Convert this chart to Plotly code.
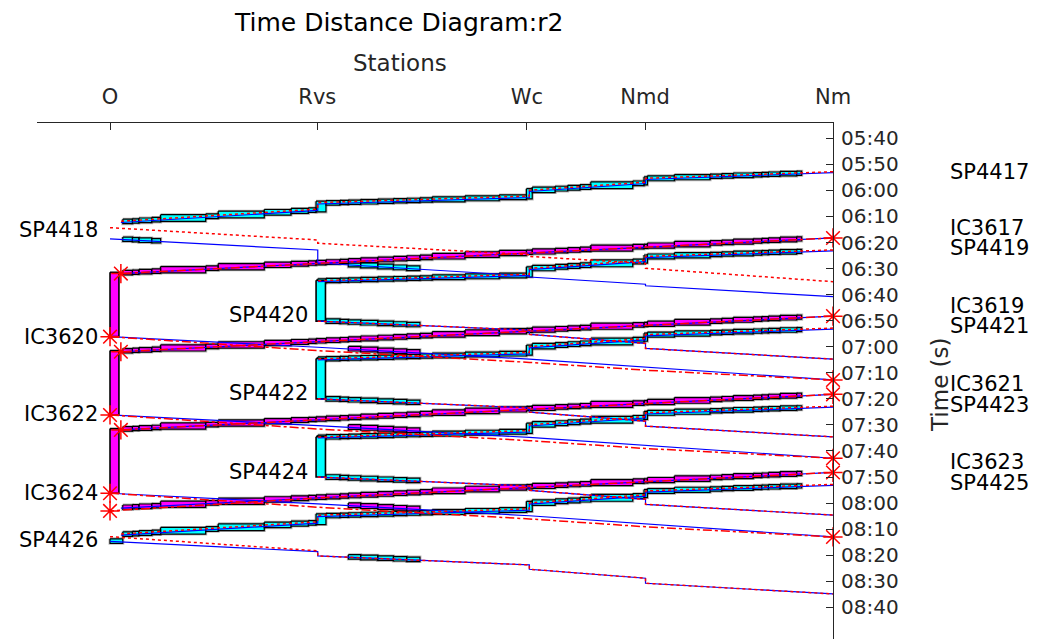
import plotly.graph_objects as go

# ---------------- data ----------------
STATION_NAMES = ["O", "Rvs", "Wc", "Nmd", "Nm"]
STATION_KM = [0.0, 8.6, 17.3, 22.2, 30.0]
STOP_KM = {"O": 0.0, "Op": 0.45, "Rvs": 8.62, "Wc": 17.40, "Nmd": 22.22, "Nm": 30.0}

SIGNAL_KM = [0.0, 0.53, 0.93, 1.20, 1.73, 2.10, 3.97, 4.49, 6.40, 7.51, 8.23, 8.55, 8.96,
             9.54, 9.89, 10.40, 11.11, 11.76, 12.31, 12.86, 13.37, 14.73, 16.15, 17.28,
             17.52, 18.47, 18.99, 19.50, 19.95, 21.69, 22.16, 22.30, 23.42, 24.90, 25.38,
             25.86, 26.69, 27.04, 27.32, 27.80, 28.49, 28.70]

TIME_TICKS = ["05:40", "05:50", "06:00", "06:10", "06:20", "06:30", "06:40", "06:50",
              "07:00", "07:10", "07:20", "07:30", "07:40", "07:50", "08:00", "08:10",
              "08:20", "08:30", "08:40"]

# northbound sprinters (Nm -> O / Rvs)
SP4417 = [("Nm", "05:53:12"), ("Nmd", "05:55:49"), ("Nmd", "05:57:21"), ("Wc", "06:00:25"),
          ("Wc", "06:02:43"), ("Rvs", "06:05:13"), ("Rvs", "06:07:42"), ("Op", "06:12:19")]
SP4419 = [("Nm", "06:23:12"), ("Nmd", "06:25:49"), ("Nmd", "06:27:21"), ("Wc", "06:30:25"),
          ("Wc", "06:32:43"), ("Rvs", "06:35:00")]
SP4421 = [("Nm", "06:53:12"), ("Nmd", "06:55:49"), ("Nmd", "06:57:21"), ("Wc", "07:00:25"),
          ("Wc", "07:02:43"), ("Rvs", "07:05:00")]
SP4423 = [("Nm", "07:23:12"), ("Nmd", "07:25:49"), ("Nmd", "07:27:21"), ("Wc", "07:30:25"),
          ("Wc", "07:32:43"), ("Rvs", "07:35:00")]
SP4425 = [("Nm", "07:53:12"), ("Nmd", "07:55:49"), ("Nmd", "07:57:21"), ("Wc", "08:00:25"),
          ("Wc", "08:02:43"), ("Rvs", "08:05:13"), ("Rvs", "08:07:42"), ("Op", "08:12:19")]
SP4417_PLAN = [("Nm", "05:52:50"), ("Nmd", "05:55:20"), ("Nmd", "05:56:50"), ("Wc", "05:59:55"),
               ("Wc", "06:02:10"), ("Rvs", "06:04:40"), ("Rvs", "06:07:10"), ("Op", "06:11:50")]
SP4419_PLAN = [("Nm", "06:22:50"), ("Nmd", "06:25:20"), ("Nmd", "06:26:50"), ("Wc", "06:29:55"),
               ("Wc", "06:32:10"), ("Rvs", "06:34:40")]
SP4421_PLAN = [("Nm", "06:52:50"), ("Nmd", "06:55:20"), ("Nmd", "06:56:50"), ("Wc", "06:59:55"),
               ("Wc", "07:02:10"), ("Rvs", "07:04:40")]
SP4423_PLAN = [("Nm", "07:22:50"), ("Nmd", "07:25:20"), ("Nmd", "07:26:50"), ("Wc", "07:29:55"),
               ("Wc", "07:32:10"), ("Rvs", "07:34:40")]
SP4425_PLAN = [("Nm", "07:52:50"), ("Nmd", "07:55:20"), ("Nmd", "07:56:50"), ("Wc", "07:59:55"),
               ("Wc", "08:02:10"), ("Rvs", "08:04:40"), ("Rvs", "08:07:10"), ("Op", "08:11:50")]

# southbound sprinters (O / Rvs -> Nm)
SP4418 = [("O", "06:18:38"), ("Rvs", "06:22:52"), ("Rvs", "06:27:51"), ("Wc", "06:32:50"),
          ("Wc", "06:33:15"), ("Nmd", "06:36:00"), ("Nmd", "06:36:35"), ("Nm", "06:40:47")]
SP4418_PLAN = [("O", "06:14:18"), ("Rvs", "06:19:01"), ("Rvs", "06:20:17"), ("Wc", "06:24:40"),
               ("Wc", "06:25:21"), ("Nmd", "06:28:00"), ("Nmd", "06:29:53"), ("Nm", "06:35:02")]
SP4420 = [("Rvs", "06:50:10"), ("Wc", "06:53:37"), ("Wc", "06:55:16"), ("Nmd", "06:58:43"),
          ("Nmd", "07:00:39"), ("Nm", "07:04:45")]
SP4422 = [("Rvs", "07:20:00"), ("Wc", "07:23:27"), ("Wc", "07:25:06"), ("Nmd", "07:28:33"),
          ("Nmd", "07:30:29"), ("Nm", "07:34:35")]
SP4424 = [("Rvs", "07:50:00"), ("Wc", "07:53:27"), ("Wc", "07:55:06"), ("Nmd", "07:58:33"),
          ("Nmd", "08:00:29"), ("Nm", "08:04:35")]
SP4426 = [("O", "08:14:43"), ("Rvs", "08:18:38"), ("Rvs", "08:20:17"), ("Wc", "08:23:44"),
          ("Wc", "08:25:23"), ("Nmd", "08:28:50"), ("Nmd", "08:30:46"), ("Nm", "08:34:52")]
SP4426_PLAN = [("O", "08:12:53"), ("Rvs", "08:18:20"), ("Rvs", "08:20:17"), ("Wc", "08:23:44"),
               ("Wc", "08:25:23"), ("Nmd", "08:28:50"), ("Nmd", "08:30:46"), ("Nm", "08:34:52")]

# intercity trains
IC3617 = [("Nm", "06:18:15"), ("Nmd", "06:21:43"), ("Wc", "06:23:58"), ("Rvs", "06:28:02"), ("Op", "06:31:55")]
IC3619 = [("Nm", "06:48:15"), ("Nmd", "06:51:43"), ("Wc", "06:53:58"), ("Rvs", "06:58:02"), ("Op", "07:01:55")]
IC3621 = [("Nm", "07:18:15"), ("Nmd", "07:21:43"), ("Wc", "07:23:58"), ("Rvs", "07:28:02"), ("Op", "07:31:55")]
IC3623 = [("Nm", "07:48:15"), ("Nmd", "07:51:43"), ("Wc", "07:53:58"), ("Rvs", "07:58:02"), ("Op", "08:01:58")]
IC3623_PLAN = [("Nm", "07:48:15"), ("Nmd", "07:51:43"), ("Wc", "07:53:58"), ("Rvs", "07:58:02"), ("O", "08:03:00")]
IC3620 = [("O", "06:56:08"), ("Rvs", "07:00:12"), ("Wc", "07:04:46"), ("Nmd", "07:07:50"), ("Nm", "07:12:45")]
IC3620_PLAN = [("O", "06:56:08"), ("Rvs", "07:01:30"), ("Wc", "07:06:00"), ("Nmd", "07:09:00"), ("Nm", "07:12:45")]
IC3622 = [("O", "07:26:11"), ("Rvs", "07:30:15"), ("Wc", "07:34:49"), ("Nmd", "07:37:53"), ("Nm", "07:42:47")]
IC3622_PLAN = [("O", "07:26:11"), ("Rvs", "07:31:33"), ("Wc", "07:36:03"), ("Nmd", "07:39:03"), ("Nm", "07:42:47")]
IC3624 = [("O", "07:56:13"), ("Rvs", "08:00:17"), ("Wc", "08:04:51"), ("Nmd", "08:07:55"), ("Nm", "08:13:00")]
IC3624_PLAN = [("O", "07:56:13"), ("Rvs", "08:01:35"), ("Wc", "08:06:05"), ("Nmd", "08:09:05"), ("Nm", "08:13:00")]

# block sections shown per train (km from, km to)
NB_FULL = [(0.53, 28.70)]
NB_TO_RVS = [(8.55, 28.70)]
SB_FROM_O = [(0.53, 2.10), (9.89, 12.86)]
SB_FROM_O_LATE = [(0.0, 0.53), (9.89, 12.86)]
SB_FROM_RVS = [(8.96, 12.86)]
SB_IC = [(9.89, 12.86)]

# turnarounds (inbound, outbound)
TURN_O = [("IC3617", "IC3620"), ("IC3619", "IC3622"), ("IC3621", "IC3624")]
TURN_RVS = [("SP4419", "SP4420"), ("SP4421", "SP4422"), ("SP4423", "SP4424")]
TURN_O_KM = (0.0, 0.37)
TURN_RVS_KM = (8.55, 8.94)

# train labels
LEFT_LABELS = [("SP4418", "06:15:11"), ("IC3620", "06:56:15"), ("IC3622", "07:25:48"),
               ("IC3624", "07:56:06"), ("SP4426", "08:14:09")]
MID_LABELS = [("SP4420", "06:47:48"), ("SP4422", "07:17:44"), ("SP4424", "07:48:04")]
RIGHT_LABELS = [("SP4417", "05:52:56"), ("IC3617", "06:14:25"), ("SP4419", "06:22:06"),
                ("IC3619", "06:44:21"), ("SP4421", "06:52:02"), ("IC3621", "07:14:17"),
                ("SP4423", "07:22:20"), ("IC3623", "07:44:13"), ("SP4425", "07:52:16")]

# ---------------- helpers ----------------
def tmin(s):
    p = [int(v) for v in s.split(":")]
    return p[0] * 60 + p[1] + (p[2] / 60.0 if len(p) > 2 else 0.0)


def path_xy(path):
    return [STOP_KM[s] for s, _ in path], [tmin(t) for _, t in path]


def pass_time(xs, ts, x):
    for i in range(len(xs) - 1):
        x0, x1 = xs[i], xs[i + 1]
        if x0 == x1:
            continue
        if min(x0, x1) - 1e-9 <= x <= max(x0, x1) + 1e-9:
            return ts[i] + (x - x0) / (x1 - x0) * (ts[i + 1] - ts[i])
    return None


TRAINS = {
    "SP4417": dict(act=SP4417, plan=SP4417_PLAN, kind="SP", blocks=NB_FULL),
    "SP4419": dict(act=SP4419, plan=SP4419_PLAN, kind="SP", blocks=NB_TO_RVS),
    "SP4421": dict(act=SP4421, plan=SP4421_PLAN, kind="SP", blocks=NB_TO_RVS),
    "SP4423": dict(act=SP4423, plan=SP4423_PLAN, kind="SP", blocks=NB_TO_RVS),
    "SP4425": dict(act=SP4425, plan=SP4425_PLAN, kind="SP", blocks=NB_FULL),
    "SP4418": dict(act=SP4418, plan=SP4418_PLAN, kind="SP", blocks=SB_FROM_O),
    "SP4420": dict(act=SP4420, plan=SP4420, kind="SP", blocks=SB_FROM_RVS),
    "SP4422": dict(act=SP4422, plan=SP4422, kind="SP", blocks=SB_FROM_RVS),
    "SP4424": dict(act=SP4424, plan=SP4424, kind="SP", blocks=SB_FROM_RVS),
    "SP4426": dict(act=SP4426, plan=SP4426_PLAN, kind="SP", blocks=SB_FROM_O_LATE),
    "IC3617": dict(act=IC3617, plan=IC3617, kind="IC", blocks=NB_FULL),
    "IC3619": dict(act=IC3619, plan=IC3619, kind="IC", blocks=NB_FULL),
    "IC3621": dict(act=IC3621, plan=IC3621, kind="IC", blocks=NB_FULL),
    "IC3623": dict(act=IC3623, plan=IC3623_PLAN, kind="IC", blocks=NB_FULL),
    "IC3620": dict(act=IC3620, plan=IC3620_PLAN, kind="IC", blocks=SB_IC),
    "IC3622": dict(act=IC3622, plan=IC3622_PLAN, kind="IC", blocks=SB_IC),
    "IC3624": dict(act=IC3624, plan=IC3624_PLAN, kind="IC", blocks=SB_IC),
}

PRE, POST = 1.0, 0.5  # minutes of block reservation before / after passage

poly = {"SP": ([], []), "IC": ([], [])}
for name, tr in TRAINS.items():
    xs, ts = path_xy(tr["act"])
    kmin, kmax = min(xs), max(xs)
    px, py = poly[tr["kind"]]
    for r0, r1 in tr["blocks"]:
        for a, b in zip(SIGNAL_KM[:-1], SIGNAL_KM[1:]):
            if a < r0 - 1e-9 or b > r1 + 1e-9:
                continue
            aa, bb = max(a, kmin), min(b, kmax)
            if bb <= aa:
                continue
            ta, tb = pass_time(xs, ts, aa), pass_time(xs, ts, bb)
            y0, y1 = min(ta, tb) - PRE, max(ta, tb) + POST
            px += [aa, bb, bb, aa, aa, None]
            py += [y0, y0, y1, y1, y0, None]

turn_poly = {"IC": ([], []), "SP": ([], [])}
for pairs, (k0, k1), kind in ((TURN_O, TURN_O_KM, "IC"), (TURN_RVS, TURN_RVS_KM, "SP")):
    px, py = turn_poly[kind]
    for tin, tout in pairs:
        t0 = path_xy(TRAINS[tin]["act"])[1][-1] - 0.5
        t1 = path_xy(TRAINS[tout]["act"])[1][0]
        px += [k0, k1, k1, k0, k0, None]
        py += [t0, t0, t1, t1, t0, None]

fig = go.Figure()
FILL = {"SP": "#00FFFF", "IC": "#FF00FF"}
for kind in ("SP", "IC"):
    px, py = poly[kind]
    fig.add_trace(go.Scatter(x=px, y=py, mode="lines", line=dict(color="rgba(80,80,80,0.4)", width=3),
                             hoverinfo="skip"))
for kind in ("SP", "IC"):
    px, py = poly[kind]
    fig.add_trace(go.Scatter(x=px, y=py, mode="lines", fill="toself", fillcolor=FILL[kind],
                             line=dict(color="black", width=1.2), hoverinfo="skip"))
for kind in ("IC", "SP"):
    px, py = turn_poly[kind]
    fig.add_trace(go.Scatter(x=px, y=py, mode="lines", fill="toself", fillcolor=FILL[kind],
                             line=dict(color="black", width=1.6), hoverinfo="skip"))

# actual paths (blue)
ax, ay = [], []
for name, tr in TRAINS.items():
    xs, ts = path_xy(tr["act"])
    ax += xs + [None]
    ay += ts + [None]
fig.add_trace(go.Scatter(x=ax, y=ay, mode="lines", line=dict(color="#0000FF", width=1.2), hoverinfo="skip"))

# planned paths (red)
for kind, dash in (("SP", "dot"), ("IC", "dashdot")):
    qx, qy = [], []
    for name, tr in TRAINS.items():
        if tr["kind"] != kind:
            continue
        xs, ts = path_xy(tr["plan"])
        qx += xs + [None]
        qy += ts + [None]
    fig.add_trace(go.Scatter(x=qx, y=qy, mode="lines", line=dict(color="#FF0000", width=1.5, dash=dash),
                             hoverinfo="skip"))

# IC terminal markers
sx, sy = [], []
for name, tr in TRAINS.items():
    if tr["kind"] != "IC":
        continue
    xs, ts = path_xy(tr["plan"])
    sx += [xs[0], xs[-1]]
    sy += [ts[0], ts[-1]]
fig.add_trace(go.Scatter(x=sx, y=sy, mode="markers", cliponaxis=False,
                         marker=dict(symbol="asterisk-open", size=16, color="#FF0000",
                                     line=dict(color="#FF0000", width=1.5)), hoverinfo="skip"))

# ---------------- layout ----------------
# The page body adds an 8 px margin, so the figure is drawn 8 px smaller and shifted.
BODY = 8
PLOT_L, PLOT_R, PLOT_T, PLOT_B = 37, 833, 123, 639   # plot area in screenshot pixels
W, H = 1039 - BODY, 639 - BODY
ML, MT = PLOT_L - BODY, PLOT_T - BODY
MR, MB = W - (PLOT_R - BODY), H - (PLOT_B - BODY)
PW, PH = PLOT_R - PLOT_L, PLOT_B - PLOT_T


def pxx(p):
    return (p - PLOT_L) / PW


def pxy(p):
    return (PLOT_B - p) / PH


FONT = "DejaVu Sans, Liberation Sans, Arial, sans-serif"
annotations = [
    dict(text="Time Distance Diagram:r2", x=pxx(398), y=pxy(22), xref="paper", yref="paper",
         showarrow=False, xanchor="center", yanchor="middle",
         font=dict(size=25, color="black", family=FONT)),
    dict(text="Stations", x=pxx(400), y=pxy(63), xref="paper", yref="paper",
         showarrow=False, xanchor="center", yanchor="middle",
         font=dict(size=23, color="#262626", family=FONT)),
    dict(text="Time (s)", x=pxx(940), y=pxy(385), xref="paper", yref="paper",
         showarrow=False, textangle=-90, xanchor="center", yanchor="middle",
         font=dict(size=23, color="#262626", family=FONT)),
]
for txt, t in LEFT_LABELS:
    annotations.append(dict(text=txt, x=-0.41, y=tmin(t), xref="x", yref="y", showarrow=False,
                            xanchor="right", yanchor="middle", font=dict(size=21, color="black", family=FONT)))
for txt, t in MID_LABELS:
    annotations.append(dict(text=txt, x=8.3, y=tmin(t), xref="x", yref="y", showarrow=False,
                            xanchor="right", yanchor="middle", font=dict(size=21, color="black", family=FONT)))
for txt, t in RIGHT_LABELS:
    annotations.append(dict(text=txt, x=pxx(948), y=tmin(t), xref="paper", yref="y", showarrow=False,
                            xanchor="left", yanchor="middle", font=dict(size=21, color="black", family=FONT)))

fig.update_layout(
    width=W, height=H, margin=dict(l=ML, r=MR, t=MT, b=MB, pad=0),
    plot_bgcolor="white", paper_bgcolor="white", showlegend=False,
    font=dict(family=FONT, color="#262626"),
    annotations=annotations,
    xaxis=dict(range=[-3.03, 30.0], side="top", tickvals=STATION_KM, ticktext=STATION_NAMES,
               ticks="inside", ticklen=7, tickcolor="#262626", showline=True, linecolor="#262626",
               linewidth=1, showgrid=False, zeroline=False, tickfont=dict(size=21),
               ticklabelstandoff=10),
    yaxis=dict(range=[532.16, 334.13], side="right", tickvals=[tmin(t) for t in TIME_TICKS],
               ticktext=TIME_TICKS, ticks="inside", ticklen=7, tickcolor="#262626", showline=True,
               linecolor="#262626", linewidth=1, showgrid=False, zeroline=False, tickfont=dict(size=20),
               ticklabelstandoff=3),
)

fig.write_html("out.html")
